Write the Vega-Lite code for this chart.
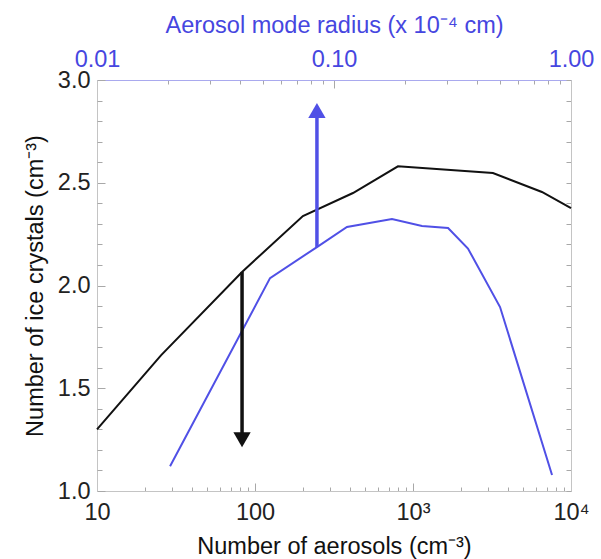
{
  "$schema": "https://vega.github.io/schema/vega-lite/v6.json",
  "width": 474,
  "height": 411,
  "autosize": {"type": "none"},
  "padding": {"left": 97, "top": 80, "right": 30, "bottom": 68},
  "background": "white",
  "view": {"stroke": null},
  "config": {
    "font": "Liberation Sans",
    "axis": {
      "grid": false,
      "labelFont": "Liberation Sans",
      "titleFont": "Liberation Sans",
      "labelFontSize": 23.5,
      "titleFontSize": 23.5,
      "titleFontWeight": "normal",
      "labelColor": "#222222",
      "titleColor": "#111111",
      "domainColor": "#c4c4c4",
      "tickColor": "#a8a8a8",
      "labelOverlap": false,
      "labelFlush": false,
      "labelBound": false
    }
  },
  "datasets": {
    "curves": [
      {"series": "black", "n": 10, "ice": 1.30},
      {"series": "black", "n": 25.4, "ice": 1.66},
      {"series": "black", "n": 82.8, "ice": 2.066},
      {"series": "black", "n": 201, "ice": 2.338},
      {"series": "black", "n": 417, "ice": 2.45},
      {"series": "black", "n": 803, "ice": 2.58},
      {"series": "black", "n": 3206, "ice": 2.547},
      {"series": "black", "n": 6546, "ice": 2.455},
      {"series": "black", "n": 10000, "ice": 2.377},
      {"series": "blue", "n": 29, "ice": 1.12},
      {"series": "blue", "n": 124.5, "ice": 2.036},
      {"series": "blue", "n": 246.6, "ice": 2.187},
      {"series": "blue", "n": 382, "ice": 2.285},
      {"series": "blue", "n": 736, "ice": 2.324},
      {"series": "blue", "n": 1140, "ice": 2.29},
      {"series": "blue", "n": 1667, "ice": 2.28},
      {"series": "blue", "n": 2228, "ice": 2.18},
      {"series": "blue", "n": 3556, "ice": 1.895},
      {"series": "blue", "n": 7586, "ice": 1.078}
    ],
    "arrows": [
      {"series": "black", "n": 82.8, "start": 2.066, "tip": 1.25, "shape": "triangle-down"},
      {"series": "blue", "n": 246.6, "start": 2.187, "tip": 2.852, "shape": "triangle-up"}
    ],
    "radius": [{"r": 0.01}, {"r": 1}],
    "yrange": [{"v": 1}, {"v": 3}]
  },
  "layer": [
    {
      "layer": [
        {
          "data": {"name": "curves"},
          "mark": {"type": "line", "strokeWidth": 2},
          "encoding": {
            "x": {
              "field": "n", "type": "quantitative",
              "scale": {"type": "log", "domain": [10, 10000], "nice": false},
              "axis": {
                "orient": "bottom",
                "title": "Number of aerosols (cm⁻³)",
                "values": [10,20,30,40,50,60,70,80,90,100,200,300,400,500,600,700,800,900,1000,2000,3000,4000,5000,6000,7000,8000,9000,10000],
                "labelExpr": "datum.value == 10 ? '10' : datum.value == 100 ? '100' : datum.value == 1000 ? '10³' : datum.value == 10000 ? '10⁴' : ''",
                "tickSize": {"condition": {"test": "datum.value == 10 || datum.value == 100 || datum.value == 1000 || datum.value == 10000", "value": -8}, "value": -4},
                "labelOverlap": false,
                "labelPadding": 17,
                "titlePadding": 7
              }
            },
            "y": {
              "field": "ice", "type": "quantitative",
              "scale": {"domain": [1, 3], "nice": false, "zero": false},
              "axis": {
                "orient": "left",
                "title": "Number of ice crystals (cm⁻³)",
                "values": [1, 1.5, 2, 2.5, 3],
                "format": ".1f",
                "tickSize": -8,
                "labelOverlap": false,
                "labelPadding": 15,
                "titlePadding": 10
              }
            },
            "detail": {"field": "series"},
            "color": {
              "field": "series", "type": "nominal",
              "scale": {"domain": ["black", "blue"], "range": ["#111111", "#5050e6"]},
              "legend": null
            }
          }
        },
        {
          "data": {"name": "arrows"},
          "mark": {"type": "rule", "strokeWidth": 3.5},
          "encoding": {
            "x": {"field": "n", "type": "quantitative"},
            "y": {"field": "start", "type": "quantitative"},
            "y2": {"field": "tip"},
            "color": {"field": "series", "type": "nominal", "scale": {"domain": ["black", "blue"], "range": ["#111111", "#3a4cf0"]}, "legend": null}
          }
        },
        {
          "data": {"name": "arrows"},
          "mark": {"type": "point", "filled": true, "size": 300, "opacity": 1},
          "encoding": {
            "x": {"field": "n", "type": "quantitative"},
            "y": {"field": "tip", "type": "quantitative"},
            "shape": {"field": "shape", "type": "nominal", "scale": {"domain": ["triangle-down", "triangle-up"], "range": ["triangle-down", "triangle-up"]}, "legend": null},
            "color": {"field": "series", "type": "nominal", "scale": {"domain": ["black", "blue"], "range": ["#111111", "#3a4cf0"]}, "legend": null}
          }
        }
      ]
    },
    {
      "data": {"name": "radius"},
      "mark": {"type": "point", "opacity": 0},
      "encoding": {
        "x": {
          "field": "r", "type": "quantitative",
          "scale": {"type": "log", "domain": [0.01, 1], "nice": false},
          "axis": {
            "orient": "top",
            "title": "Aerosol mode radius (x 10⁻⁴ cm)",
            "titleColor": "#4646e0",
            "labelColor": "#4646e0",
            "domainColor": "#a9a9ee",
            "values": [0.01,0.02,0.03,0.04,0.05,0.06,0.07,0.08,0.09,0.1,0.2,0.3,0.4,0.5,0.6,0.7,0.8,0.9,1],
            "labelExpr": "datum.value == 0.01 ? '0.01' : datum.value == 0.1 ? '0.10' : datum.value == 1 ? '1.00' : ''",
            "tickSize": {"condition": {"test": "datum.value == 0.01 || datum.value == 0.1 || datum.value == 1", "value": -8}, "value": -4},
            "labelOverlap": false,
            "labelPadding": 17,
            "titlePadding": 6
          }
        }
      }
    },
    {
      "data": {"name": "yrange"},
      "mark": {"type": "point", "opacity": 0},
      "encoding": {
        "y": {
          "field": "v", "type": "quantitative",
          "scale": {"domain": [1, 3], "nice": false, "zero": false},
          "axis": {
            "orient": "right",
            "title": null,
            "labels": false,
            "values": [1,1.1,1.2,1.3,1.4,1.5,1.6,1.7,1.8,1.9,2,2.1,2.2,2.3,2.4,2.5,2.6,2.7,2.8,2.9,3],
            "tickSize": -5
          }
        }
      }
    },
    {
      "data": {"name": "yrange"},
      "mark": {"type": "point", "opacity": 0},
      "encoding": {
        "y": {
          "field": "v", "type": "quantitative",
          "scale": {"domain": [1, 3], "nice": false, "zero": false},
          "axis": {
            "orient": "left",
            "title": null,
            "labels": false,
            "domain": false,
            "values": [1.1,1.2,1.3,1.4,1.6,1.7,1.8,1.9,2.1,2.2,2.3,2.4,2.6,2.7,2.8,2.9],
            "tickSize": -5
          }
        }
      }
    }
  ],
  "resolve": {"scale": {"x": "independent", "y": "independent"}}
}
